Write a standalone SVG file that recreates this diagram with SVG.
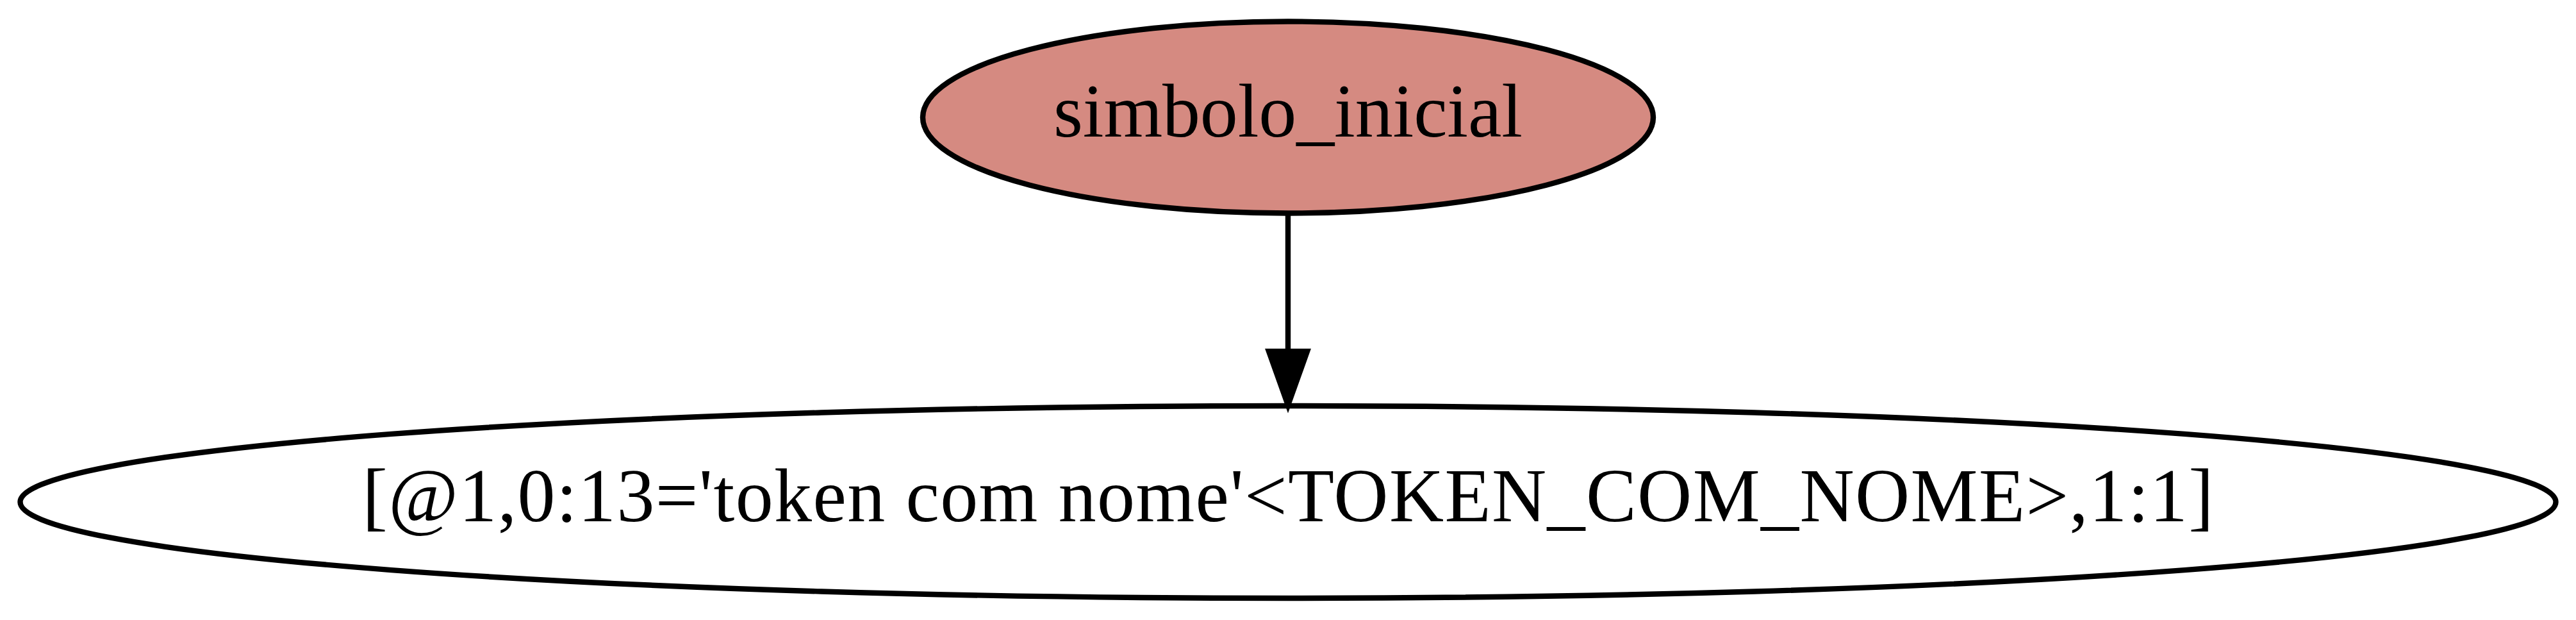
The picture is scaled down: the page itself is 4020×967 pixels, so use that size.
<svg xmlns="http://www.w3.org/2000/svg" width="4020" height="967" viewBox="0 0 4020 967">
<style>
.node ellipse{stroke:#000;stroke-width:8.4}
.node text{font-family:"Liberation Serif","Times New Roman",serif;font-size:118px;text-anchor:middle;fill:#000}
.edge line{stroke:#000;stroke-width:8.4}
.edge polygon{fill:#000;stroke:#000;stroke-width:8.4}
</style>
<rect width="4020" height="967" fill="#fff"/>
<g id="connectors" class="edge">
<line x1="2010" y1="333" x2="2010" y2="548"/>
<polygon points="1980,548 2040,548 2010,632"/>
</g>
<g id="simbolo_inicial" class="node">
<ellipse cx="2010" cy="183" rx="570" ry="149.5" fill="#d58a81"/>
<text x="2010" y="213" textLength="732" lengthAdjust="spacing">simbolo_inicial</text>
</g>
<g id="token" class="node">
<ellipse cx="2010" cy="783" rx="1978.5" ry="150" fill="none"/>
<text x="2010" y="813" textLength="2889" lengthAdjust="spacing">[@1,0:13='token com nome'&lt;TOKEN_COM_NOME&gt;,1:1]</text>
</g>
</svg>
